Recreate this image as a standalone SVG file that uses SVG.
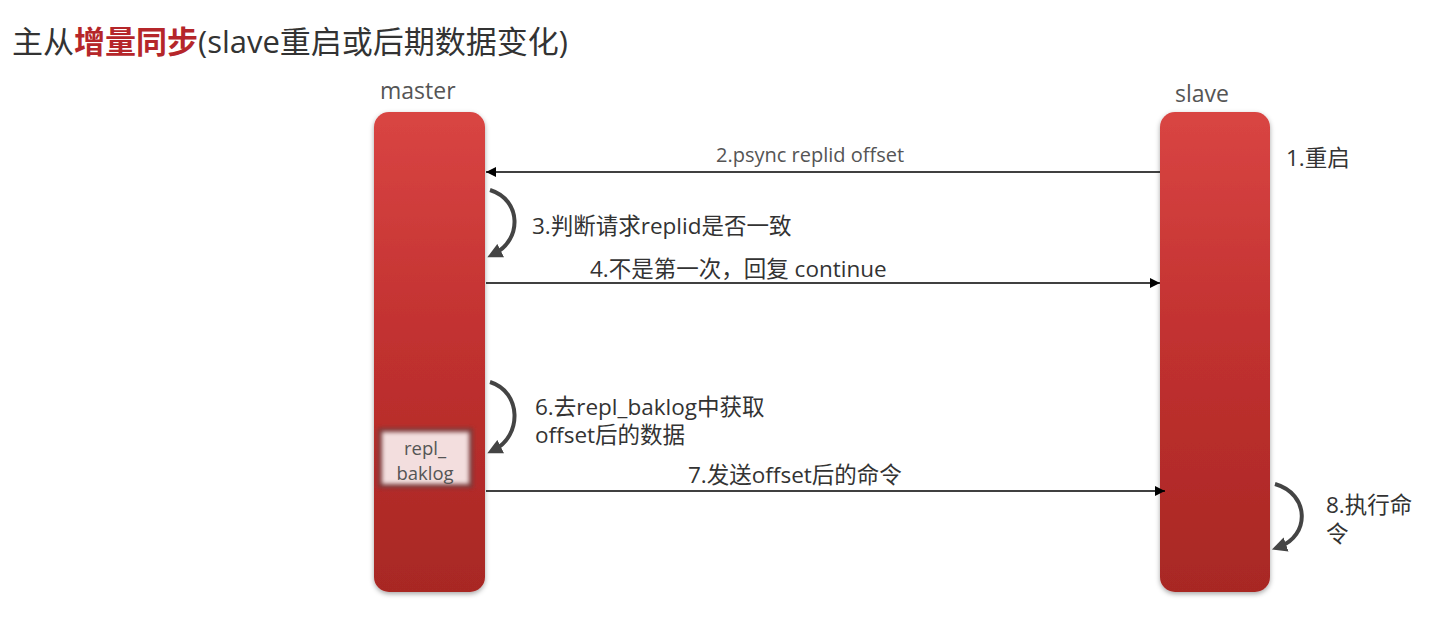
<svg xmlns="http://www.w3.org/2000/svg" width="1450" height="630" viewBox="0 0 1450 630">
<defs>
<linearGradient id="barGrad" x1="0" y1="0" x2="0" y2="1">
<stop offset="0" stop-color="#d94543"/>
<stop offset="0.5" stop-color="#c0302f"/>
<stop offset="1" stop-color="#a82824"/>
</linearGradient>
<filter id="shadow" x="-20%" y="-5%" width="140%" height="112%">
<feGaussianBlur in="SourceAlpha" stdDeviation="2.5"/>
<feOffset dx="0" dy="2" result="b"/>
<feFlood flood-color="#000" flood-opacity="0.35"/>
<feComposite in2="b" operator="in"/>
<feMerge><feMergeNode/><feMergeNode in="SourceGraphic"/></feMerge>
</filter>
<filter id="inner" x="-10%" y="-10%" width="120%" height="120%">
<feGaussianBlur stdDeviation="2"/>
</filter>
<marker id="arr" viewBox="0 0 10 10" refX="10" refY="5" markerWidth="10" markerHeight="10" markerUnits="userSpaceOnUse" orient="auto">
<path d="M0,0 L10,5 L0,10 z" fill="#000"/>
</marker>
<marker id="carr" viewBox="0 0 10 10" refX="5" refY="5" markerWidth="15" markerHeight="15" markerUnits="userSpaceOnUse" orient="auto">
<path d="M0,0 L10,5 L0,10 z" fill="#444"/>
</marker>
<style>
text{font-family:"Open Sans","Noto Sans CJK SC",sans-serif;fill:#333;}
.title{font-size:31px;}
.red{fill:#b5262a;font-weight:bold;}
.head{font-size:23px;fill:#555;}
.lbl{font-size:22.5px;fill:#333;}
.small{font-size:20px;fill:#555;}
.box{font-size:18.5px;fill:#555;text-anchor:middle;}
.line{stroke:#000;stroke-width:1.5;fill:none;}
.curve{stroke:#444;stroke-width:4;fill:none;}
</style>
</defs>

<text class="title" x="12" y="53">主从<tspan class="red">增量同步</tspan>(slave重启或后期数据变化)</text>

<g id="master">
<text class="head" x="380" y="99">master</text>
<rect x="374" y="112" width="111" height="480" rx="15" fill="url(#barGrad)" filter="url(#shadow)"/>
</g>

<g id="repl_baklog">
<rect x="378" y="428" width="95" height="60" fill="#7a3a3a" filter="url(#inner)"/>
<rect x="382" y="432" width="87" height="52" fill="#f3dede" filter="url(#inner)"/>
<text class="box" x="425" y="455">repl_</text>
<text class="box" x="425" y="480">baklog</text>
</g>

<g id="slave">
<text class="head" x="1175" y="102">slave</text>
<rect x="1160" y="112" width="110" height="480" rx="15" fill="url(#barGrad)" filter="url(#shadow)"/>
</g>

<g id="connectors">
<line class="line" x1="1160" y1="172" x2="486" y2="172" marker-end="url(#arr)"/>
<path class="curve" d="M490,190 C522,200 522,240 494,254" marker-end="url(#carr)"/>
<line class="line" x1="486" y1="283" x2="1160" y2="283" marker-end="url(#arr)"/>
<path class="curve" d="M490,382 C522,392 522,436 494,450" marker-end="url(#carr)"/>
<line class="line" x1="486" y1="491" x2="1165" y2="491" marker-end="url(#arr)"/>
<path class="curve" d="M1275,484 C1310,494 1310,536 1279,547" marker-end="url(#carr)"/>
</g>

<g id="labels">
<text class="small" x="716" y="162">2.psync replid offset</text>
<text class="lbl" x="1286" y="166">1.重启</text>
<text class="lbl" x="532" y="234">3.判断请求replid是否一致</text>
<text class="lbl" x="590" y="277">4.不是第一次，回复 continue</text>
<text class="lbl" x="535" y="415">6.去repl_baklog中获取</text>
<text class="lbl" x="535" y="443">offset后的数据</text>
<text class="lbl" x="688" y="483">7.发送offset后的命令</text>
<text class="lbl" x="1326" y="513">8.执行命</text>
<text class="lbl" x="1326" y="542">令</text>
</g>
</svg>
